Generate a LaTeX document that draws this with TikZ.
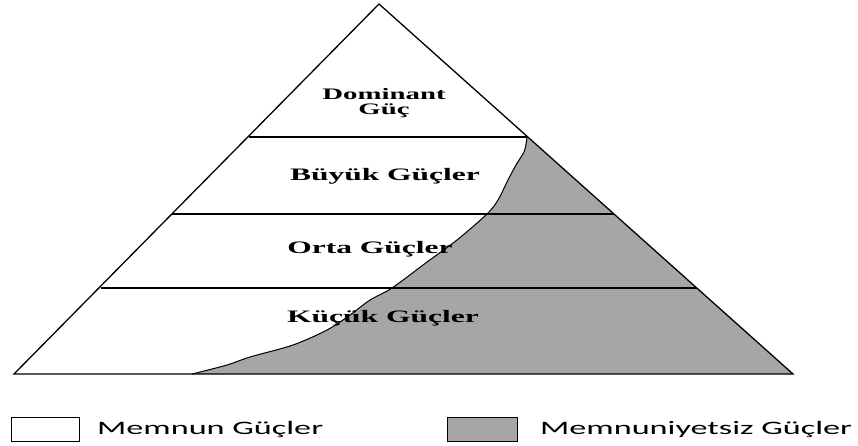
\documentclass[tikz,border=0pt]{standalone}
\usepackage{fontspec}
\newfontfamily\lblfont[FakeStretch=1.8]{Liberation Serif}
\newfontfamily\legfont[FakeStretch=1.8]{Carlito}
\definecolor{unhappy}{HTML}{A6A6A6}
\tikzset{
  edge/.style={draw=black, line width=1.3pt},
  level/.style={draw=black, line width=1.3pt},
  lbl/.style={font=\lblfont\bfseries\fontsize{17.5}{17.5}\selectfont, text=black, align=center, inner sep=0pt},
  toplbl/.style={font=\lblfont\bfseries\fontsize{16}{16}\selectfont, text=black, align=center, inner sep=0pt},
  leg/.style={font=\legfont\fontsize{19}{19}\selectfont, text=black, anchor=west, inner sep=0pt},
  legbox/.style={draw=black, line width=1pt, minimum width=68pt, minimum height=24pt, inner sep=0pt}
}
\begin{document}
\begin{tikzpicture}[x=1pt,y=-1pt]
\useasboundingbox (0,0) rectangle (858,445);
\coordinate (apex) at (379,4);
\coordinate (bl) at (14,374);
\coordinate (br) at (793,374);
% grey region
\fill[unhappy] plot[smooth, tension=0.5] coordinates {(192,374) (227,365) (250,357) (293,345) (327,330) (350,315) (370,300) (392,288) (427,262) (457,240) (487,214) (498,200) (508,180) (516,165) (524,152) (526,144) (527,137)} -- (br) -- cycle;
\draw[line width=1pt] plot[smooth, tension=0.5] coordinates {(192,374) (227,365) (250,357) (293,345) (327,330) (350,315) (370,300) (392,288) (427,262) (457,240) (487,214) (498,200) (508,180) (516,165) (524,152) (526,144) (527,137)};
% levels
\coordinate (l1a) at (249,137); \coordinate (l1b) at (527,137);
\coordinate (l2a) at (172,214); \coordinate (l2b) at (614,214);
\coordinate (l3a) at (101,288); \coordinate (l3b) at (697,288);
\draw[level] (l1a) -- (l1b);
\draw[level] (l2a) -- (l2b);
\draw[level] (l3a) -- (l3b);
% triangle
\draw[edge, line join=miter] (bl) -- (apex) -- (br) -- cycle;
% labels
\node[toplbl] (dom) at (384,103) {Dominant\\[-1pt]Güç};
\node[lbl] (buyuk) at (385,176) {Büyük Güçler};
\node[lbl] (orta) at (370,249) {Orta Güçler};
\node[lbl] (kucuk) at (383,318) {Küçük Güçler};
% legend
\node[legbox, fill=white] (lb1) at (45,429) {};
\node[leg] (lt1) at (97,429) {Memnun Güçler};
\node[legbox, fill=unhappy, minimum width=70pt] (lb2) at (482,429) {};
\node[leg] (lt2) at (540,429) {Memnuniyetsiz Güçler};
\end{tikzpicture}
\end{document}
